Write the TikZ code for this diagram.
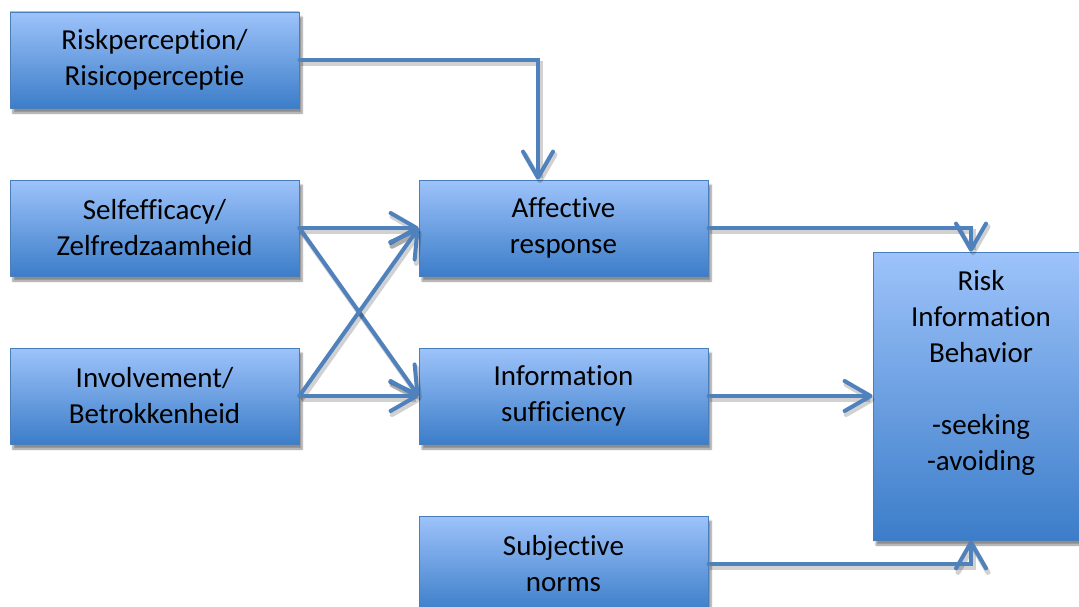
\documentclass[tikz,border=0pt]{standalone}
\usepackage{fontspec}
\setmainfont{Carlito}[Ligatures=NoCommon]
\usetikzlibrary{arrows.meta,shadows.blur,calc}
\definecolor{boxtop}{RGB}{157,195,250}
\definecolor{boxbot}{RGB}{60,125,201}
\definecolor{boxline}{RGB}{74,126,187}
\definecolor{conncol}{RGB}{79,129,189}
\tikzset{
  box/.style={rectangle, draw=boxline, line width=0.8pt, top color=boxtop, bottom color=boxbot,
    minimum width=289pt, minimum height=96pt, inner sep=0pt, align=center,
    font=\fontsize{29}{36}\selectfont,
    blur shadow={shadow xshift=3pt, shadow yshift=-5pt, shadow blur steps=6, shadow opacity=45}},
  lbl/.style={align=center, font=\fontsize{29}{36}\selectfont, inner sep=0pt},
  tip/.style={-{Straight Barb[length=26pt,width=30pt,line cap=round,round]}},
  conn/.style={draw=conncol, line width=4pt, line cap=round, tip,
    preaction={draw=black, draw opacity=0.18, line width=5pt, tip,
      transform canvas={shift={(2pt,-3.5pt)}}}},
}
\begin{document}
\begin{tikzpicture}[x=1pt,y=-1pt]
\useasboundingbox (0,0) rectangle (1079,607);
\clip (0,0) rectangle (1079,607);
\node[box] (risk) at (154.5,60) {Riskperception/\\Risicoperceptie};
\node[box] (self) at (154.5,228) {Selfefficacy/\\Zelfredzaamheid};
\node[box] (inv) at (154.5,396) {Involvement/\\Betrokkenheid};
\node[box] (aff) at (563.5,228) {Affective\\response};
\node[box] (info) at (563.5,396) {Information\\sufficiency};
\node[box] (subj) at (563.5,564) {Subjective\\norms};
\node[box, minimum width=216pt, minimum height=288pt] (rib) at (981,396) {};
\node[lbl, anchor=north] (ribtext) at (981,270) {Risk\\Information\\Behavior\\[36pt]-seeking\\-avoiding};
\draw[conn] (risk.east) -| ([xshift=-25.5pt]aff.north);
\draw[conn] (self.east) -- (aff.west);
\draw[conn] (self.east) -- (info.west);
\draw[conn] (inv.east) -- (aff.west);
\draw[conn] (inv.east) -- (info.west);
\draw[conn] (aff.east) -| ([xshift=-10pt]rib.north);
\draw[conn] (info.east) -- (rib.west);
\draw[conn] (subj.east) -| ([xshift=-10pt]rib.south);
\end{tikzpicture}
\end{document}
